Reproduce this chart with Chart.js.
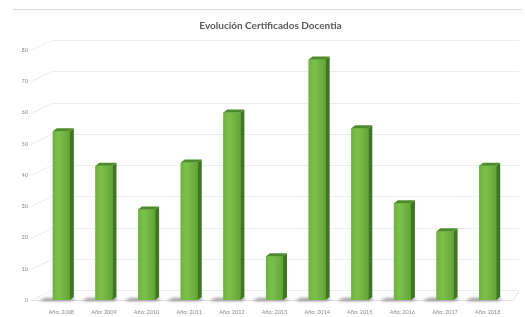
<!DOCTYPE html>
<html>
<head>
<meta charset="utf-8">
<script src="https://cdn.jsdelivr.net/npm/chart.js@4.4.1/dist/chart.umd.min.js"></script>
<style>
  html, body { margin: 0; padding: 0; background: #fff; }
  #wrap { width: 525px; height: 317px; position: relative; }
</style>
</head>
<body>
<div id="wrap"><canvas id="chart"></canvas></div>
<script>
// data
const years = ["2008", "2009", "2010", "2011", "2012", "2013", "2014", "2015", "2016", "2017", "2018"];
const certificados = [54, 43, 29, 44, 60, 14, 77, 55, 31, 22, 43];
const yMin = 0, yMax = 80, yStep = 10;
const chartTitle = "Evolución Certificados Docentia";

const labels = years.map((y) => "Año: " + y);

// 3d look: back wall grid, floor shadows, side + top faces
const DEPTH_X = 4, DEPTH_Y = 3;
const WALL_DX = 10, WALL_DY = 9;

const bar3d = {
  id: "bar3d",
  beforeDraw(chart) {
    const ctx = chart.ctx;
    ctx.save();
    ctx.strokeStyle = "#dcdcdc";
    ctx.lineWidth = 1;
    ctx.beginPath();
    ctx.moveTo(13, 9.5);
    ctx.lineTo(522, 9.5);
    ctx.stroke();
    // title, centred a little right of the canvas like the original
    const a = chart.chartArea;
    ctx.fillStyle = "#595959";
    ctx.font = "bold 10px Lato";
    ctx.textAlign = "center";
    ctx.textBaseline = "middle";
    ctx.fillText(chartTitle, (a.left + a.right) / 2 - 4, 26);
    ctx.restore();
  },
  beforeDatasetsDraw(chart) {
    const { ctx, chartArea: a, scales } = chart;
    const ys = scales.y;
    ctx.save();
    ctx.strokeStyle = "#ececec";
    ctx.lineWidth = 1;
    ys.ticks.forEach((t) => {
      const y = Math.round(ys.getPixelForValue(t.value)) + 0.5;
      ctx.beginPath();
      ctx.moveTo(a.left - 9, y);
      ctx.lineTo(a.left + 12, y - WALL_DY - 1);
      ctx.lineTo(a.right + WALL_DX, y - WALL_DY - 1);
      ctx.stroke();
    });
    // floor edge
    ctx.strokeStyle = "#e2e2e2";
    ctx.beginPath();
    ctx.moveTo(a.left - 9, a.bottom + 0.5);
    ctx.lineTo(a.right + 4, a.bottom + 0.5);
    ctx.lineTo(a.right + WALL_DX, a.bottom - WALL_DY);
    ctx.stroke();
    // shadows under bars
    const meta = chart.getDatasetMeta(0);
    meta.data.forEach((bar) => {
      const x1 = bar.x - bar.width / 2, x2 = bar.x + bar.width / 2;
      const b = bar.base;
      ctx.save();
      ctx.filter = "blur(1.5px)";
      ctx.fillStyle = "rgba(80,80,80,0.6)";
      ctx.beginPath();
      ctx.moveTo(x1 - 14, b + 1);
      ctx.lineTo(x2 + 2, b + 1);
      ctx.lineTo(x2 + DEPTH_X + 2, b - 2);
      ctx.lineTo(x1 - 8, b - 2);
      ctx.closePath();
      ctx.fill();
      ctx.restore();
    });
    ctx.restore();
  },
  afterDatasetsDraw(chart) {
    const ctx = chart.ctx;
    const meta = chart.getDatasetMeta(0);
    ctx.save();
    meta.data.forEach((bar) => {
      const x1 = bar.x - bar.width / 2, x2 = bar.x + bar.width / 2;
      const top = bar.y, b = bar.base;
      // front shading
      const g = ctx.createLinearGradient(x1, 0, x2, 0);
      g.addColorStop(0, "#6fb33f");
      g.addColorStop(0.35, "#7cc14b");
      g.addColorStop(1, "#62a536");
      ctx.fillStyle = g;
      ctx.fillRect(x1, top, x2 - x1, b - top);
      // side
      ctx.fillStyle = "#3f7524";
      ctx.beginPath();
      ctx.moveTo(x2, top);
      ctx.lineTo(x2 + DEPTH_X, top - DEPTH_Y);
      ctx.lineTo(x2 + DEPTH_X, b - DEPTH_Y);
      ctx.lineTo(x2, b);
      ctx.closePath();
      ctx.fill();
      // top
      ctx.fillStyle = "#4f8a2d";
      ctx.beginPath();
      ctx.moveTo(x1, top);
      ctx.lineTo(x1 + DEPTH_X, top - DEPTH_Y);
      ctx.lineTo(x2 + DEPTH_X, top - DEPTH_Y);
      ctx.lineTo(x2, top);
      ctx.closePath();
      ctx.fill();
    });
    ctx.restore();
  },
};

new Chart(document.getElementById("chart"), {
  type: "bar",
  data: {
    labels,
    datasets: [
      {
        label: "Certificados",
        data: certificados,
        backgroundColor: "#72b542",
        borderWidth: 0,
        barPercentage: 0.4,
        categoryPercentage: 1,
      },
    ],
  },
  options: {
    responsive: true,
    maintainAspectRatio: false,
    animation: false,
    layout: { padding: { top: 50, left: 22, right: 16, bottom: 0 } },
    plugins: {
      legend: { display: false },
      tooltip: { enabled: false },
      title: { display: false },
    },
    scales: {
      x: {
        grid: { display: false, drawTicks: false },
        border: { display: false },
        ticks: {
          color: "#8a8a8a",
          font: { family: "Lato", size: 5.5 },
          padding: 9,
          maxRotation: 0,
          autoSkip: false,
        },
        afterFit: (s) => { s.height = 17; },
      },
      y: {
        min: yMin,
        max: yMax,
        grid: { display: false, drawTicks: false },
        border: { display: false },
        ticks: {
          stepSize: yStep,
          color: "#8a8a8a",
          font: { family: "Lato", size: 5.5 },
          padding: 12,
        },
        afterFit: (s) => { s.width = 18; },
      },
    },
  },
  plugins: [bar3d],
});
</script>
</body>
</html>
